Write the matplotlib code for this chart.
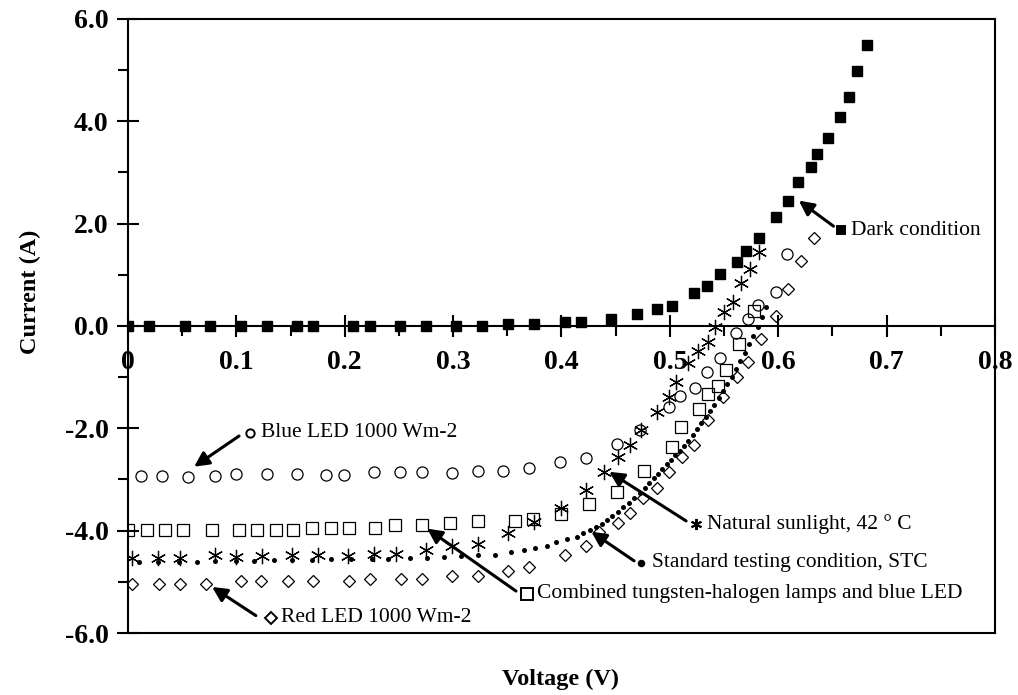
import matplotlib
matplotlib.use("Agg")
import matplotlib.pyplot as plt
from matplotlib.ticker import MultipleLocator, FuncFormatter

# ---- data ----
dark_v = [0.0, 0.019, 0.053, 0.076, 0.104, 0.128, 0.156, 0.171, 0.208, 0.223,
          0.251, 0.275, 0.303, 0.327, 0.351, 0.375, 0.403, 0.418, 0.446, 0.470,
          0.488, 0.502, 0.522, 0.534, 0.546, 0.562, 0.570, 0.582, 0.598, 0.609,
          0.618, 0.630, 0.636, 0.646, 0.657, 0.665, 0.673, 0.682]
dark_i = [0.0, 0.0, 0.0, 0.0, 0.0, 0.0, 0.0, 0.0, 0.0, 0.0,
          0.0, 0.0, 0.0, 0.0, 0.04, 0.04, 0.08, 0.08, 0.14, 0.23,
          0.33, 0.39, 0.64, 0.78, 1.02, 1.25, 1.46, 1.72, 2.13, 2.44,
          2.81, 3.11, 3.36, 3.67, 4.08, 4.47, 4.98, 5.49]

blue_v = [0.012, 0.031, 0.055, 0.080, 0.100, 0.128, 0.156, 0.183, 0.199, 0.227,
          0.251, 0.271, 0.299, 0.323, 0.346, 0.370, 0.399, 0.423, 0.451, 0.472,
          0.499, 0.509, 0.523, 0.534, 0.546, 0.561, 0.572, 0.581, 0.598, 0.608]
blue_i = [-2.93, -2.93, -2.95, -2.93, -2.89, -2.89, -2.89, -2.91, -2.91, -2.85,
          -2.85, -2.85, -2.87, -2.83, -2.83, -2.77, -2.66, -2.58, -2.30, -2.03,
          -1.58, -1.37, -1.21, -0.90, -0.63, -0.14, 0.14, 0.41, 0.66, 1.41]

comb_v = [0.0, 0.018, 0.034, 0.051, 0.078, 0.102, 0.119, 0.137, 0.152, 0.170,
          0.187, 0.204, 0.228, 0.246, 0.271, 0.297, 0.323, 0.357, 0.374, 0.400,
          0.425, 0.451, 0.476, 0.502, 0.510, 0.527, 0.535, 0.544, 0.552, 0.564,
          0.578]
comb_i = [-3.98, -3.98, -3.98, -3.98, -3.98, -3.98, -3.98, -3.98, -3.98, -3.95,
          -3.95, -3.95, -3.95, -3.89, -3.89, -3.85, -3.81, -3.81, -3.77, -3.67,
          -3.48, -3.24, -2.83, -2.36, -1.97, -1.62, -1.33, -1.17, -0.86, -0.35,
          0.29]

sun_v = [0.004, 0.028, 0.048, 0.080, 0.100, 0.124, 0.151, 0.175, 0.203, 0.227,
         0.247, 0.275, 0.299, 0.323, 0.351, 0.375, 0.400, 0.423, 0.439, 0.452,
         0.463, 0.473, 0.488, 0.499, 0.506, 0.517, 0.526, 0.535, 0.542, 0.550,
         0.558, 0.566, 0.574, 0.582]
sun_i = [-4.53, -4.53, -4.53, -4.47, -4.51, -4.49, -4.47, -4.47, -4.49, -4.45,
         -4.45, -4.38, -4.30, -4.26, -4.04, -3.83, -3.55, -3.20, -2.85, -2.56,
         -2.32, -2.03, -1.68, -1.39, -1.09, -0.72, -0.49, -0.31, -0.02, 0.27,
         0.47, 0.84, 1.11, 1.45]

stc_v = [0.010, 0.028, 0.047, 0.064, 0.080, 0.100, 0.116, 0.135, 0.151, 0.170,
         0.187, 0.206, 0.225, 0.240, 0.260, 0.276, 0.292, 0.307, 0.323, 0.339,
         0.353, 0.365, 0.376, 0.387, 0.395, 0.405, 0.414, 0.420, 0.426, 0.432,
         0.437, 0.442, 0.447, 0.452, 0.457, 0.462, 0.467, 0.472, 0.477, 0.481,
         0.485, 0.489, 0.493, 0.497, 0.501, 0.505, 0.509, 0.513, 0.517, 0.521,
         0.525, 0.529, 0.533, 0.537, 0.541, 0.545, 0.549, 0.553, 0.557, 0.561,
         0.565, 0.569, 0.573, 0.577, 0.581, 0.585, 0.589]
stc_i = [-4.61, -4.61, -4.61, -4.61, -4.59, -4.59, -4.59, -4.57, -4.57, -4.57,
         -4.55, -4.55, -4.55, -4.55, -4.53, -4.53, -4.51, -4.49, -4.47, -4.47,
         -4.41, -4.38, -4.34, -4.30, -4.22, -4.16, -4.12, -4.05, -3.98, -3.92,
         -3.86, -3.79, -3.71, -3.63, -3.54, -3.45, -3.36, -3.26, -3.16, -3.07,
         -2.98, -2.89, -2.80, -2.70, -2.61, -2.52, -2.44, -2.34, -2.24, -2.13,
         -2.02, -1.90, -1.78, -1.66, -1.54, -1.41, -1.28, -1.14, -0.99, -0.84,
         -0.68, -0.52, -0.36, -0.19, -0.01, 0.18, 0.38]

red_v = [0.004, 0.029, 0.048, 0.072, 0.104, 0.123, 0.148, 0.171, 0.204, 0.223,
         0.252, 0.271, 0.299, 0.323, 0.351, 0.370, 0.403, 0.423, 0.435, 0.452,
         0.463, 0.475, 0.488, 0.499, 0.511, 0.522, 0.535, 0.549, 0.562, 0.572,
         0.584, 0.598, 0.609, 0.621, 0.633]
red_i = [-5.04, -5.04, -5.04, -5.04, -4.98, -4.98, -4.98, -4.98, -4.98, -4.94,
         -4.94, -4.94, -4.88, -4.88, -4.79, -4.71, -4.47, -4.30, -4.02, -3.85,
         -3.65, -3.36, -3.16, -2.85, -2.56, -2.32, -1.84, -1.39, -1.00, -0.70,
         -0.25, 0.20, 0.72, 1.27, 1.72]

serif = ["Liberation Serif", "DejaVu Serif"]

fig = plt.figure(figsize=(10.18, 6.95), dpi=100)
ax = fig.add_axes([0.1257, 0.0892, 0.8517, 0.8835])

mk = dict(linestyle="none", color="black", markeredgecolor="black")
ax.plot(dark_v, dark_i, marker="s", markersize=7.3, markerfacecolor="black", **mk)
ax.plot(blue_v, blue_i, marker="o", markersize=8, markerfacecolor="none",
        markeredgewidth=0.9, **mk)
ax.plot(comb_v, comb_i, marker="s", markersize=8.5, markerfacecolor="none",
        markeredgewidth=0.9, **mk)
ax.plot(sun_v, sun_i, marker=(6, 2, 0), markersize=11, markeredgewidth=0.9, **mk)
ax.plot(red_v, red_i, marker="D", markersize=6.5, markerfacecolor="none",
        markeredgewidth=0.9, **mk)
ax.plot(stc_v, stc_i, marker="o", markersize=3.6, markerfacecolor="black",
        markeredgewidth=0, **mk)

ax.set_xlim(0, 0.8)
ax.set_ylim(-6, 6)

# x axis sits on I = 0, box kept all round
ax.spines["bottom"].set_position(("data", 0))
for s in ax.spines.values():
    s.set_linewidth(1.5)
ax.plot([0, 1], [0, 0], transform=ax.transAxes, color="black", lw=1.5,
        clip_on=False)

ax.xaxis.set_major_locator(MultipleLocator(0.1))
ax.xaxis.set_minor_locator(MultipleLocator(0.05))
ax.yaxis.set_major_locator(MultipleLocator(2))
ax.yaxis.set_minor_locator(MultipleLocator(1))
ax.xaxis.set_major_formatter(FuncFormatter(lambda v, p: "0" if abs(v) < 1e-9 else f"{v:.1f}"))
ax.yaxis.set_major_formatter(FuncFormatter(lambda v, p: f"{v:.1f}"))
ax.tick_params(which="major", direction="inout", length=16, width=1.5)
ax.tick_params(which="minor", direction="out", length=7, width=1.5)
ax.tick_params(axis="x", which="major", pad=9)
ax.tick_params(axis="y", which="major", pad=6)
for lab in ax.get_xticklabels() + ax.get_yticklabels():
    lab.set_fontfamily(serif)
    lab.set_fontweight("bold")
    lab.set_fontsize(20)

fig.text(0.551, 0.022, "Voltage (V)", family=serif, weight="bold", fontsize=17.5,
         ha="center", va="center")
fig.text(0.030, 0.58, "Current (A)", family=serif, weight="bold", fontsize=17.5,
         ha="center", va="center", rotation=90)

# ---- callouts ----
arrow = dict(arrowstyle="-|>", color="black", lw=2.2, mutation_scale=22,
             shrinkA=0, shrinkB=0)
notes = [
    ("Dark condition", (0.619, 2.45), (0.651, 1.95), (0.658, 1.875), "s", "black", 6),
    ("Blue LED 1000 Wm-2", (0.061, -2.75), (0.1025, -2.15), (0.113, -2.09), "o", "none", 6),
    ("Natural sunlight, 42 \u00b0 C", (0.444, -2.85), (0.515, -3.81), (0.5245, -3.87), (6, 2, 0), "black", 8),
    ("Standard testing condition, STC", (0.4275, -4.02), (0.467, -4.59), (0.4737, -4.63), "o", "black", 4),
    ("Combined tungsten-halogen lamps and blue LED", (0.276, -3.96), (0.358, -5.18), (0.368, -5.23), "s", "none", 8),
    ("Red LED 1000 Wm-2", (0.0776, -5.10), (0.118, -5.66), (0.132, -5.70), "D", "none", 6),
]
for txt, head, tail, key, m, fc, ms in notes:
    ax.annotate("", xy=head, xytext=tail, arrowprops=arrow)
    ax.plot([key[0]], [key[1]], marker=m, markersize=ms, markerfacecolor=fc,
            markeredgecolor="black", markeredgewidth=1.4, color="black",
            linestyle="none", clip_on=False)
    ax.text(key[0] + 0.0095, key[1], txt, family=serif, fontsize=15.5,
            ha="left", va="center")

fig.savefig("out.png", dpi=100)
